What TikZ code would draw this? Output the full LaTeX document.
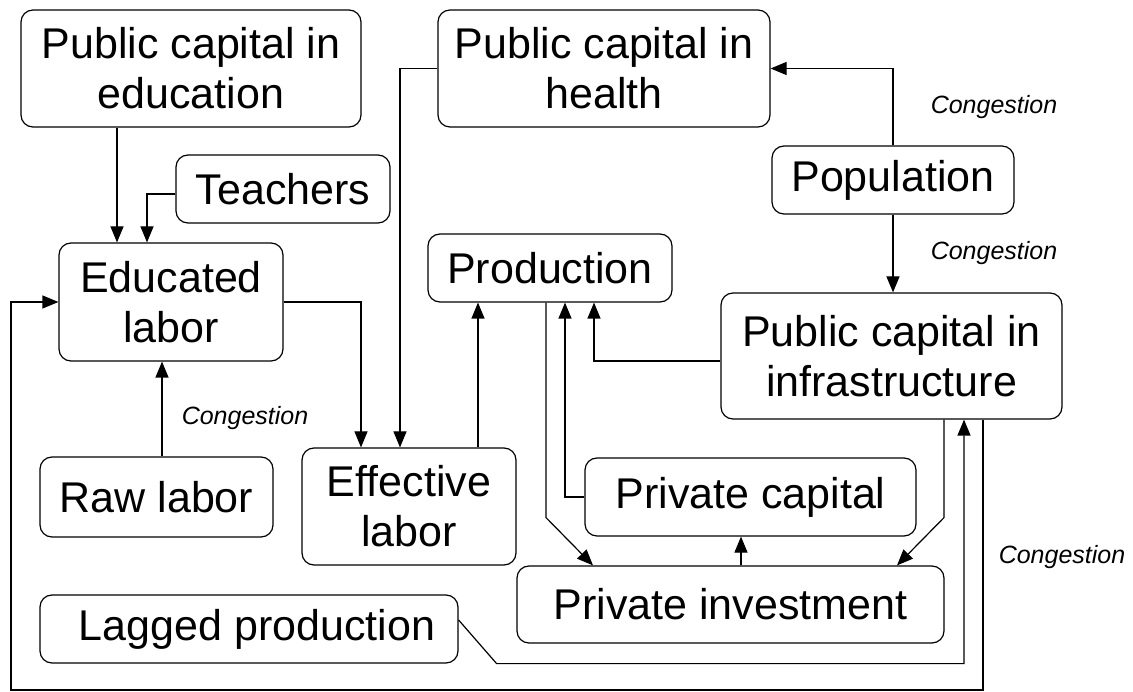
\documentclass[tikz,border=0pt]{standalone}
\usepackage{fontspec}
\setmainfont{Liberation Sans}
\usetikzlibrary{arrows.meta}
\tikzset{
  box/.style={draw, rounded corners=12pt, align=center, inner sep=0pt,
    font=\fontsize{43}{50}\selectfont},
  arr/.style={-{Triangle[length=16pt,width=13pt]}},
  cong/.style={font=\fontsize{25}{30}\selectfont\itshape}
}
\begin{document}
\begin{tikzpicture}[x=1pt, y=-1pt, line width=1.2pt]
        \useasboundingbox (0,0) rectangle (1133,692);

        \node [box, minimum width=340pt, minimum height=117pt] (edu) at (191,68.5) {Public capital in\\education};
        \node [box, minimum width=332pt, minimum height=117pt] (health) at (604,68.5) {Public capital in\\health};
        \node [box, minimum width=214pt, minimum height=68pt] (teach) at (283,189) {Teachers};
        \node [box, minimum width=242pt, minimum height=68pt] (pop) at (893,180) {Population};
        \node [box, minimum width=224pt, minimum height=118pt] (educ) at (171,302) {Educated\\labor};
        \node [box, minimum width=244pt, minimum height=68pt] (prod) at (550,268) {Production};
        \node [box, minimum width=341pt, minimum height=126pt] (infra) at (891.5,356) {Public capital in\\infrastructure};
        \node [box, minimum width=233pt, minimum height=80pt] (raw) at (156.5,497) {Raw labor};
        \node [box, minimum width=214pt, minimum height=117pt] (eff) at (409,506.5) {Effective\\labor};
        \node [box, minimum width=331pt, minimum height=78pt] (pcap) at (750.5,497) {Private capital};
        \node [box, minimum width=427pt, minimum height=77pt] (pinv) at (730.5,604.5) {Private investment};
        \node [box, minimum width=418pt, minimum height=68pt] (lag) at (249,629) {\hspace{16pt}Lagged production};

        \node [cong] (cpop1) at (994,107) {Congestion};
        \node [cong] (cpop2) at (994,253) {Congestion};
        \node [cong] (craw) at (245,418) {Congestion};
        \node [cong] (cinfra) at (1062,557) {Congestion};

        \coordinate (loop) at (11,690);

        \draw [arr] ([xshift=-54pt]educ.north |- edu.south) -- ([xshift=-54pt]educ.north);
        \draw [arr] ([yshift=-5pt]teach.west) -| ([xshift=-24pt]educ.north);
        \draw [arr] (educ.east) -| ([xshift=-48pt]eff.north);
        \draw [arr] (health.west) -| ([xshift=-9pt]eff.north);
        \draw [arr] ([xshift=-9pt]educ.south |- raw.north) -- ([xshift=-9pt]educ.south);
        \draw [arr] ([xshift=69pt]eff.north) -- ([xshift=69pt]eff.north |- prod.south);

        \draw [arr] ([xshift=-4pt]prod.south) -- ++(0,215) -- ([xshift=-137.5pt]pinv.north);
        \draw [arr] (pcap.west) -| ([xshift=15pt]prod.south);
        \draw [arr] ([yshift=-5pt]infra.west) -| ([xshift=44pt]prod.south);
        \draw [arr] ([xshift=10.5pt]pinv.north) -- ([xshift=10.5pt]pinv.north |- pcap.south);
        \draw [arr] ([xshift=52.5pt]infra.south) -- ++(0,98) -- ([xshift=166.5pt]pinv.north);

        \draw [arr] (pop.north) |- (health.east);
        \draw [arr] (pop.south) -- (pop.south |- infra.north);

        \draw [arr] ([yshift=9pt]lag.east) -- ([xshift=38pt]lag.south east) -| ([xshift=72.5pt]infra.south);
        \draw [arr] ([xshift=91.5pt]infra.south) |- (loop) |- (educ.west);
      \end{tikzpicture}
\end{document}
